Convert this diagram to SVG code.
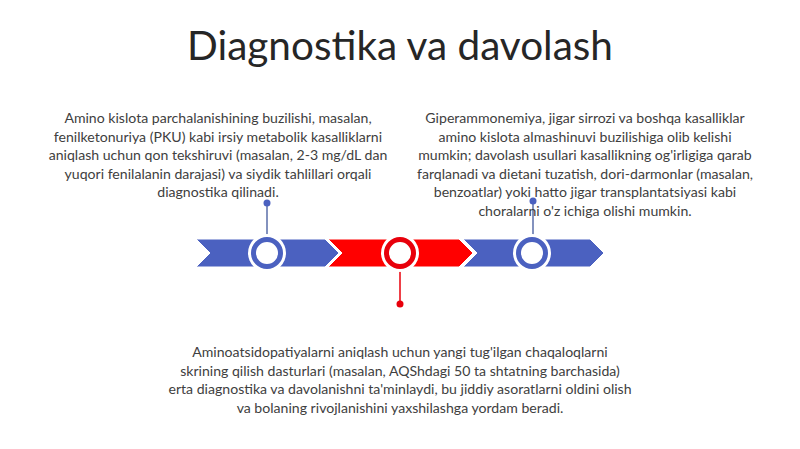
<svg xmlns="http://www.w3.org/2000/svg" width="800" height="449" viewBox="0 0 800 449">
<style>
.t{font-family:Lato,"Open Sans","Liberation Sans",sans-serif;fill:#404040;font-size:14.1px;text-anchor:middle}
.title{font-family:Lato,"Open Sans","Liberation Sans",sans-serif;fill:#262626;font-size:40.5px;text-anchor:middle}
.blue{fill:#4B61C0;stroke:#fff;stroke-width:1}
.red{fill:#FF0000;stroke:#fff;stroke-width:1}
.halo{fill:#fff}
.rb{fill:#fff;stroke:#4B61C0;stroke-width:5}
.rr{fill:#fff;stroke:#E8000B;stroke-width:5}
</style>
<rect width="800" height="449" fill="#fff"/>
<text class="title" x="400" y="60">Diagnostika va davolash</text>
<g id="connectors">
<line x1="267" y1="203" x2="267" y2="236" stroke="#5A6EA8" stroke-width="1.5"/>
<circle cx="267" cy="203" r="3.5" fill="#4B61C0"/>
<line x1="533" y1="201" x2="533" y2="236" stroke="#5A6EA8" stroke-width="1.5"/>
<circle cx="533" cy="201" r="3.5" fill="#4B61C0"/>
<line x1="400" y1="270" x2="400" y2="304" stroke="#E8000B" stroke-width="1.5"/>
<circle cx="400" cy="304" r="3.5" fill="#E8000B"/>
</g>
<g id="timeline">
<polygon class="blue" points="196,239 325,239 339,253 325,267 196,267 210,253"/>
<polygon class="red" points="328,239 459,239 473,253 459,267 328,267 342,253"/>
<polygon class="blue" points="463,239 590,239 604,253 590,267 463,267 477,253"/>
</g>
<g id="node1">
<circle class="halo" cx="267" cy="253" r="19"/>
<circle class="rb" cx="267" cy="253" r="13.5"/>
<text class="t" x="218" y="123">Amino kislota parchalanishining buzilishi, masalan,</text>
<text class="t" x="218" y="141.5">fenilketonuriya (PKU) kabi irsiy metabolik kasalliklarni</text>
<text class="t" x="218" y="160">aniqlash uchun qon tekshiruvi (masalan, 2-3 mg/dL dan</text>
<text class="t" x="218" y="178.5">yuqori fenilalanin darajasi) va siydik tahlillari orqali</text>
<text class="t" x="218" y="197">diagnostika qilinadi.</text>
</g>
<g id="node2">
<circle class="halo" cx="400" cy="253" r="19"/>
<circle class="rr" cx="400" cy="253" r="13.5"/>
<text class="t" x="400" y="357">Aminoatsidopatiyalarni aniqlash uchun yangi tug'ilgan chaqaloqlarni</text>
<text class="t" x="400" y="375.5">skrining qilish dasturlari (masalan, AQShdagi 50 ta shtatning barchasida)</text>
<text class="t" x="400" y="394">erta diagnostika va davolanishni ta'minlaydi, bu jiddiy asoratlarni oldini olish</text>
<text class="t" x="400" y="412.5">va bolaning rivojlanishini yaxshilashga yordam beradi.</text>
</g>
<g id="node3">
<circle class="halo" cx="532" cy="253" r="19"/>
<circle class="rb" cx="532" cy="253" r="13.5"/>
<text class="t" x="585" y="123">Giperammonemiya, jigar sirrozi va boshqa kasalliklar</text>
<text class="t" x="585" y="141.5">amino kislota almashinuvi buzilishiga olib kelishi</text>
<text class="t" x="585" y="160">mumkin; davolash usullari kasallikning og'irligiga qarab</text>
<text class="t" x="585" y="178.5">farqlanadi va dietani tuzatish, dori-darmonlar (masalan,</text>
<text class="t" x="585" y="197">benzoatlar) yoki hatto jigar transplantatsiyasi kabi</text>
<text class="t" x="585" y="215.5">choralarni o'z ichiga olishi mumkin.</text>
</g>
</svg>
